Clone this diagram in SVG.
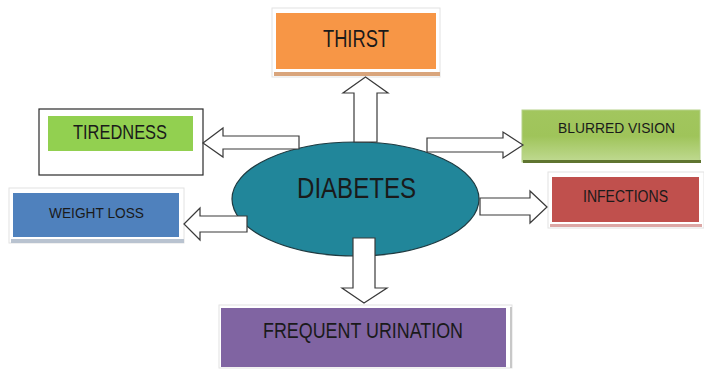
<svg xmlns="http://www.w3.org/2000/svg" width="704" height="371" viewBox="0 0 704 371">
<defs>
<linearGradient id="gBlur" x1="0" y1="0" x2="0" y2="1">
<stop offset="0" stop-color="#a2c65e"/>
<stop offset="0.5" stop-color="#9fc45a"/>
<stop offset="1" stop-color="#c0da92"/>
</linearGradient>
<style>
.frame{fill:#ffffff;stroke:#e2e2e2;stroke-width:1}
.lbl{font-family:"Liberation Sans",Arial,sans-serif;fill:#1a1a1a;text-anchor:middle}
.arr{fill:#ffffff;stroke:#3a3a3a;stroke-width:1.2;stroke-linejoin:miter}
</style>
</defs>
<rect width="704" height="371" fill="#ffffff"/>

<g id="thirst">
<rect class="frame" x="272" y="8" width="168" height="69"/>
<rect x="274" y="72" width="166" height="4" fill="#d9a57c"/>
<rect x="276" y="13" width="160" height="56" fill="#f79646"/>
<text class="lbl" x="356" y="47" font-size="23" textLength="66" lengthAdjust="spacingAndGlyphs">THIRST</text>
</g>

<g id="tiredness">
<rect x="39" y="109" width="164" height="66" fill="#ffffff" stroke="#2a2a2a" stroke-width="1.2"/>
<rect x="48" y="116" width="145" height="35" fill="#92d050"/>
<text class="lbl" x="120" y="139" font-size="21" textLength="94" lengthAdjust="spacingAndGlyphs">TIREDNESS</text>
</g>

<g id="blurred-vision">
<rect x="522" y="110" width="178" height="52" fill="url(#gBlur)" stroke="#b5d18a" stroke-width="1"/>
<rect x="523" y="160" width="178" height="3" fill="#5f7530"/>
<text class="lbl" x="616.5" y="133" font-size="15" textLength="117" lengthAdjust="spacingAndGlyphs">BLURRED VISION</text>
</g>

<g id="infections">
<rect class="frame" x="548" y="172" width="156" height="56"/>
<rect x="550" y="224" width="152" height="3" fill="#dca7a5"/>
<rect x="552" y="177" width="147" height="45" fill="#c0504d"/>
<text class="lbl" x="625.5" y="202" font-size="16" textLength="85" lengthAdjust="spacingAndGlyphs">INFECTIONS</text>
</g>

<g id="weight-loss">
<rect class="frame" x="9" y="188" width="175" height="55"/>
<rect x="11" y="239" width="173" height="4" fill="#b9c3d0"/>
<rect x="13" y="193" width="166" height="44" fill="#4f81bd"/>
<text class="lbl" x="96.5" y="218" font-size="15" textLength="95" lengthAdjust="spacingAndGlyphs">WEIGHT LOSS</text>
</g>

<g id="frequent-urination">
<rect class="frame" x="219" y="305" width="293" height="63"/>
<rect x="510" y="307" width="2" height="61" fill="#c8c8c8"/>
<rect x="221" y="308" width="285" height="59" fill="#8064a2"/>
<text class="lbl" x="363" y="338" font-size="22" textLength="200" lengthAdjust="spacingAndGlyphs">FREQUENT URINATION</text>
</g>

<g id="diabetes">
<ellipse cx="355.5" cy="199" rx="123.5" ry="57" fill="#21869a" stroke="#1f3a40" stroke-width="1.2"/>
<text class="lbl" x="356.5" y="198" font-size="30" textLength="119" lengthAdjust="spacingAndGlyphs" fill="#0d1a1d">DIABETES</text>
</g>

<g id="connectors">
<polygon class="arr" points="354,142 354,93 343,93 365.5,77 388,93 377,93 377,142"/>
<polygon class="arr" points="203,143 223,128 223,136 299,136 299,149 223,149 223,157"/>
<polygon class="arr" points="523,145 503,132 503,138 427,138 427,152 503,152 503,158"/>
<polygon class="arr" points="547,207 530,191 530,198 480,198 480,215 530,215 530,223"/>
<polygon class="arr" points="184,224 200,208 200,216 247,216 247,232 200,232 200,240"/>
<polygon class="arr" points="353,238 375,238 375,288 387,288 364,303 342,288 353,288"/>
</g>
</svg>
